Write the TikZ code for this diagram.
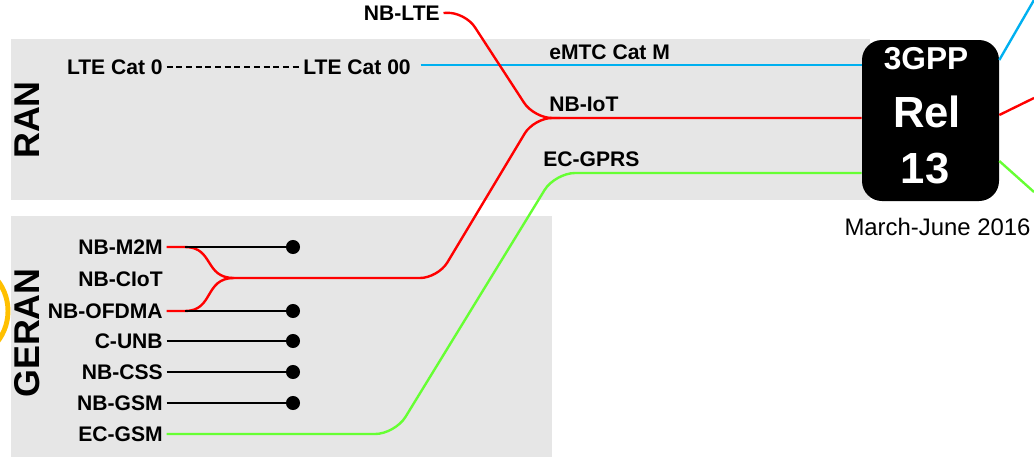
\documentclass[tikz,border=0pt]{standalone}
\usepackage{fontspec}
\setmainfont{Liberation Sans}
\usetikzlibrary{positioning,calc}

\definecolor{bandgray}{HTML}{E6E6E6}
\definecolor{lteblue}{HTML}{00B0F0}
\definecolor{iotred}{HTML}{FF0000}
\definecolor{gsmgreen}{HTML}{66FF33}
\definecolor{ringyellow}{HTML}{FFC000}

\begin{document}
\begin{tikzpicture}[x=0.25mm, y=-0.25mm,
    band/.style={fill=bandgray, draw=none},
    tech/.style={font=\fontsize{15pt}{18pt}\selectfont\bfseries, inner xsep=2.5pt, inner ysep=0pt},
    area/.style={font=\fontsize{25.5pt}{30pt}\selectfont\bfseries, rotate=90, inner sep=0pt},
    link/.style={line width=1.7pt},
    lte/.style={link, draw=lteblue},
    iot/.style={link, draw=iotred},
    gsm/.style={link, draw=gsmgreen},
    deadend/.style={link, draw=black},
    dot/.style={circle, fill=black, inner sep=0pt, minimum size=10pt},
    relbox/.style={fill=black, rounded corners=5mm, minimum width=34.25mm, minimum height=40.25mm},
    reltext/.style={text=white, inner sep=0pt},
]

\useasboundingbox (0,0) rectangle (1034,461);

% ring peeking in from the left
\draw[ringyellow, line width=3.5pt] (-42,311) circle[radius=50];

% RAN and GERAN bands
\fill[band] (11,39) rectangle (870,200);
\fill[band] (11,216) rectangle (552,457);
\node[area] (ran) at (27,120) {RAN};
\node[area] (geran) at (27,333) {GERAN};

% Release 13 box
\node[relbox] (rel) at (930.5,120.5) {};
\node[reltext, font=\fontsize{22.5pt}{26pt}\selectfont\bfseries] (gpp) at (926,59) {3GPP};
\node[reltext, font=\fontsize{31pt}{36pt}\selectfont\bfseries] (relno) at (927,111.5) {Rel};
\node[reltext, font=\fontsize{31pt}{36pt}\selectfont\bfseries] (thirteen) at (925,168.5) {13};
\node[font=\fontsize{17pt}{20pt}\selectfont, inner sep=0pt] (date) at (937.5,226.5) {March-June 2016};

% RAN side labels
\node[tech, anchor=east] (nblte) at (443.5,13) {NB-LTE};
\node[tech, anchor=east] (cat0) at (166.5,67) {LTE Cat 0};
\node[tech, anchor=west] (cat00) at (299.5,67) {LTE Cat 00};
\node[tech, anchor=west] (emtc) at (545.5,52.5) {eMTC Cat M};
\node[tech, anchor=west] (nbiot) at (545.5,104.5) {NB-IoT};
\node[tech, anchor=west] (ecgprs) at (539.5,159.5) {EC-GPRS};

% GERAN side labels
\node[tech, anchor=east] (m2m) at (166.5,247) {NB-M2M};
\node[tech, anchor=east] (ciot) at (166.5,279) {NB-CIoT};
\node[tech, anchor=east] (ofdma) at (166.5,311) {NB-OFDMA};
\node[tech, anchor=east] (cunb) at (166.5,341) {C-UNB};
\node[tech, anchor=east] (css) at (166.5,372) {NB-CSS};
\node[tech, anchor=east] (nbgsm) at (166.5,403) {NB-GSM};
\node[tech, anchor=east] (ecgsm) at (166.5,434) {EC-GSM};

% branch points
\coordinate (m2msplit) at (185,247);
\coordinate (ofdmasplit) at (185,311);
\coordinate (ciotjoin) at (234,278);
\coordinate (blueout) at (1034,0);
\coordinate (redout) at (1034,98);
\coordinate (greenout) at (1034,192);

% Cat 0 -> Cat 00
\draw[line width=1.5pt, dash pattern=on 4.3pt off 2.6pt] (cat0.east) -- (cat00.west);

% eMTC
\draw[lte] ([xshift=1.5mm]cat00.east |- 0,65) -- (rel.west |- 0,65);

% NB-IoT, fed by NB-LTE and NB-CIoT
\draw[iot] (m2m.east) -- (m2msplit) .. controls (214,247) and (204,278) .. (ciotjoin);
\draw[iot] (ofdma.east) -- (ofdmasplit) .. controls (214,311) and (204,278) .. (ciotjoin);
\draw[iot, rounded corners=4.5mm] (ciotjoin) -- (438,278) -- (534,118) -- (rel.west |- 0,118);
\draw[iot, rounded corners=4.5mm] (nblte.east) -- (465,12) -- (534,118) -- (560,118);

% EC-GSM -> EC-GPRS
\draw[gsm, rounded corners=5mm] (ecgsm.east) -- (395,434) -- (555,173) -- (rel.west |- 0,173);

% proposals that stopped
\node[dot] (m2mend) at (293,247) {};
\node[dot] (ofdmaend) at (293,311) {};
\node[dot] (cunbend) at (293,341) {};
\node[dot] (cssend) at (293,372) {};
\node[dot] (gsmend) at (293,403) {};
\draw[deadend] (m2msplit) -- (m2mend);
\draw[deadend] (ofdmasplit) -- (ofdmaend);
\draw[deadend] (cunb.east) -- (cunbend);
\draw[deadend] (css.east) -- (cssend);
\draw[deadend] (nbgsm.east) -- (gsmend);

% onwards from Rel 13
\draw[lte] (rel.east |- 0,60) -- (blueout);
\draw[iot] (rel.east |- 0,115) -- (redout);
\draw[gsm] (rel.east |- 0,161) -- (greenout);

\end{tikzpicture}
\end{document}
